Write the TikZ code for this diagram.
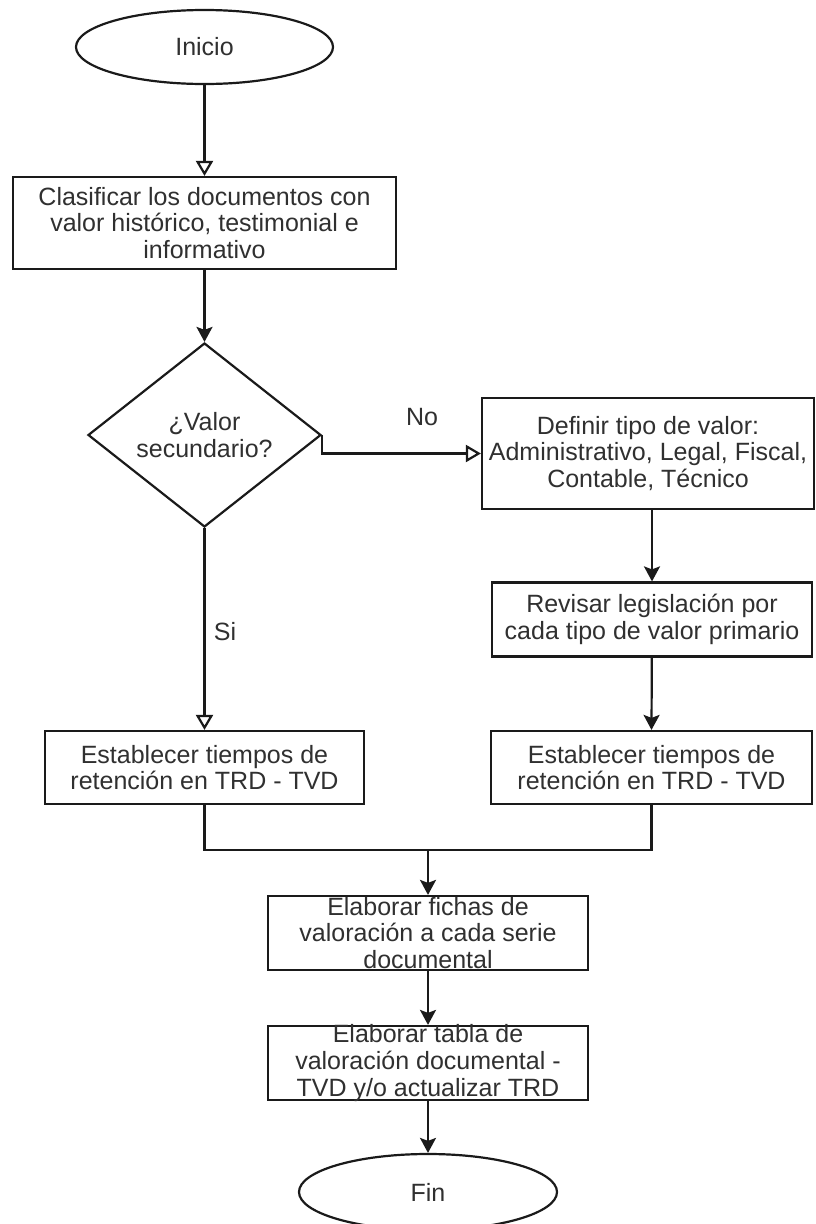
\documentclass[tikz,border=0pt]{standalone}
\usepackage{fontspec}
\setmainfont{Liberation Sans}
\usetikzlibrary{shapes.geometric,arrows.meta}
\definecolor{ln}{HTML}{1A1A1A}
\definecolor{txt}{HTML}{303030}
\begin{document}
\begin{tikzpicture}[x=1pt,y=-1pt,
  font=\fontsize{25}{26.7}\selectfont,
  base/.style={draw=ln,line width=2.2pt,fill=white,text=txt,align=center},
  box/.style={base,rectangle,inner xsep=0pt,inner ysep=-3pt},
  term/.style={base,ellipse,inner sep=0pt},
  decision/.style={base,diamond,inner sep=0pt},
  lbl/.style={text=txt,inner sep=0pt},
  wire/.style={draw=ln,line width=2.2pt},
  openarr/.style={wire,-{Triangle[length=15pt,width=17pt,fill=white]}},
  solidarr/.style={wire,-{Stealth[length=15pt,width=16pt,inset=3pt]}}
]
\clip (0,0) rectangle (815,1224);
\fill[white] (0,0) rectangle (815,1224);

% process steps
\node[term,minimum width=257pt,minimum height=74pt] (start) at (204.5,47) {Inicio};
\node[box,minimum width=383pt,minimum height=92pt] (clas) at (204.5,223)
  {Clasificar los documentos con\\valor histórico, testimonial e\\informativo};
\node[decision,minimum width=233pt,minimum height=184pt] (dec) at (204.5,435)
  {¿Valor\\secundario?};
\node[box,minimum width=332pt,minimum height=111pt] (def) at (648,453.5)
  {Definir tipo de valor:\\Administrativo, Legal, Fiscal,\\Contable, Técnico};
\node[box,minimum width=320pt,minimum height=74pt] (rev) at (652,619.5)
  {Revisar legislación por\\cada tipo de valor primario};
\node[box,minimum width=319pt,minimum height=73pt] (estL) at (204.5,767.5)
  {Establecer tiempos de\\retención en TRD - TVD};
\node[box,minimum width=321pt,minimum height=73pt] (estR) at (651.5,767.5)
  {Establecer tiempos de\\retención en TRD - TVD};
\node[box,minimum width=320pt,minimum height=74pt] (fichas) at (428,933)
  {Elaborar fichas de\\valoración a cada serie\\documental};
\node[box,minimum width=320pt,minimum height=74pt] (tabla) at (428,1063)
  {Elaborar tabla de\\valoración documental -\\TVD y/o actualizar TRD};
\node[term,minimum width=258pt,minimum height=76pt] (fin) at (428,1192) {Fin};

% branch labels
\node[lbl] (no) at (422,417) {No};
\node[lbl] (si) at (225,632) {Si};

% junction of the two retention branches
\coordinate (mj) at (428,850);

% connectors
\draw[openarr] (start) -- (clas);
\draw[solidarr] (clas) -- (dec);
\draw[openarr] (dec.east) |- (def.west);
\draw[openarr] (dec.south) -- (estL.north);
\draw[solidarr] (rev.north |- def.south) -- (rev.north);
\draw[solidarr] (rev) -- (estR.north);
\draw[wire] (estL.south) |- (mj) -| (estR.south);
\draw[solidarr] (mj) -- (fichas.north);
\draw[solidarr] (fichas) -- (tabla);
\draw[solidarr] (tabla) -- (fin);
\end{tikzpicture}
\end{document}
